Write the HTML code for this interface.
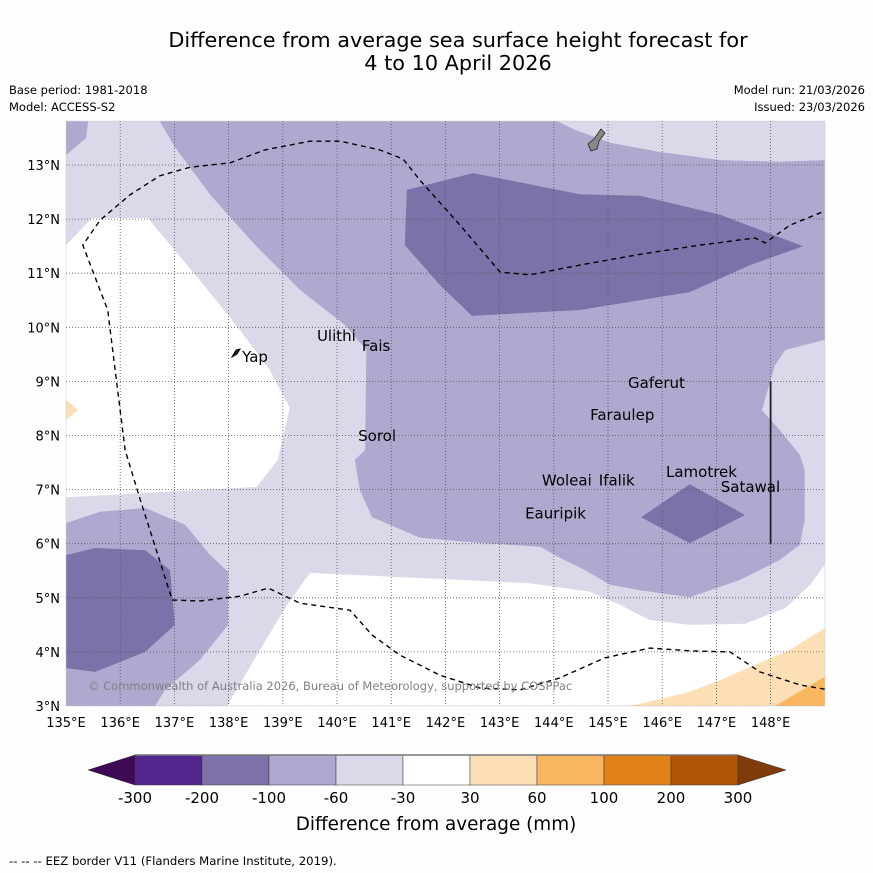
<!DOCTYPE html>
<html><head><meta charset="utf-8"><style>
html,body{margin:0;padding:0;background:#fff;}
svg{display:block;font-family:"DejaVu Sans","Liberation Sans",sans-serif;}
</style></head><body>
<svg id="chart" width="873" height="873" viewBox="0 0 873 873">
<rect width="873" height="873" fill="#fefefe"/>
<text x="458" y="47" font-size="20.8" text-anchor="middle">Difference from average sea surface height forecast for</text>
<text x="458" y="70" font-size="20.8" text-anchor="middle">4 to 10 April 2026</text>
<text x="9" y="94" font-size="11.5">Base period: 1981-2018</text>
<text x="9" y="111" font-size="11.5">Model: ACCESS-S2</text>
<text x="865" y="94" font-size="11.5" text-anchor="end">Model run: 21/03/2026</text>
<text x="865" y="111" font-size="11.5" text-anchor="end">Issued: 23/03/2026</text>
<defs><clipPath id="mc"><rect x="66" y="121" width="759" height="585"/></clipPath></defs>
<g id="map" clip-path="url(#mc)">
<rect x="66" y="121" width="759" height="585" fill="#d9d9ea"/>
</g>
<g id="overlay"></g>
<g id="cbar"></g>
<text x="436" y="830" font-size="18.4" text-anchor="middle">Difference from average (mm)</text>
<text x="9" y="865" font-size="11.7">--  --  -- EEZ border V11 (Flanders Marine Institute, 2019).</text>
</svg>
<script>
const lonMin = 135, lonMax = 149, latMin = 3, latMax = 13.81;
const regionLevels = ["-100", "-100", "-100", "white", "-200", "-200", "-200", "30", "60", "30"];
const regionPolys = [
 [[136.73,13.81],[144.06,13.81],[144.39,13.65],[145.04,13.41],[145.96,13.24],[147.07,13.09],[148.17,13.06],[149,13.09],[149,9.77],[148.27,9.58],[148.08,9.30],[147.84,8.47],[148.17,8.10],[148.54,7.64],[148.63,7.36],[148.63,6.44],[148.54,5.98],[148.17,5.70],[147.44,5.33],[146.51,5.01],[145.59,5.14],[145.04,5.24],[144.58,5.51],[144.11,5.74],[143.75,5.94],[142.45,6.03],[141.53,6.11],[140.65,6.49],[140.42,6.99],[140.33,7.55],[140.52,7.73],[140.54,9.58],[140.15,10.04],[139.32,10.69],[138.49,11.52],[137.66,12.45],[137.01,13.33]],
 [[135,13.81],[135.41,13.81],[135.37,13.5],[135,13.18]],
 [[135,6.38],[135.63,6.59],[136.46,6.66],[137.2,6.35],[137.66,5.79],[137.99,5.48],[137.99,4.5],[137.47,3.85],[136.83,3.30],[136.64,3.0],[135,3]],
 [[139.5,5.46],[142.27,5.33],[143.56,5.27],[144.67,5.11],[145.22,4.87],[145.77,4.59],[146.51,4.5],[147.53,4.52],[148.27,4.81],[148.73,5.24],[149,5.61],[149,3],[137.97,3],[138.58,4.04],[139.04,4.81]],
 [[135,5.79],[135.54,5.92],[136.46,5.88],[136.92,5.51],[137.01,4.5],[136.46,4.0],[135.54,3.63],[135,3.70]],
 [[141.29,12.54],[142.51,12.85],[144.48,12.46],[145.59,12.43],[147.07,12.08],[148.6,11.5],[147.62,11.15],[146.51,10.65],[144.48,10.32],[142.49,10.21],[141.9,10.78],[141.25,11.52]],
 [[145.61,6.49],[146.51,7.10],[147.53,6.53],[146.51,6.01]],
 [[145.41,3],[146.51,3.26],[147.07,3.48],[148.36,4.04],[149,4.44],[149,3]],
 [[148.08,3],[149,3.54],[149,3]],
 [[135,8.66],[135.22,8.47],[135,8.29]]
];
const whiteLeft = [[135,11.52],[135.48,12.02],[136.51,12.02],[137.47,10.87],[138.21,9.95],[138.76,9.21],[139.13,8.51],[138.91,7.55],[138.52,7.05],[135,6.86]];
const eezLower = [[149,3.31],[148.54,3.39],[147.8,3.63],[147.25,4.0],[146.51,4.02],[145.77,4.07],[144.94,3.89],[144.11,3.52],[143.38,3.30],[142.64,3.33],[141.9,3.57],[141.16,3.94],[140.65,4.31],[140.24,4.77],[139.32,4.9],[138.73,5.18],[138.21,5.03],[137.47,4.94],[136.96,4.96],[136.37,6.81],[136.09,7.73],[135.77,10.32],[135.31,11.52]];
const eezUpper = [[135.31,11.52],[135.63,11.98],[136.18,12.45],[136.73,12.8],[137.29,12.96],[138.03,13.04],[138.67,13.28],[139.5,13.44],[140.06,13.44],[140.79,13.28],[141.22,13.11],[141.53,12.72],[142.27,11.89],[143.01,11.02],[143.56,10.97],[144.48,11.15],[145.59,11.35],[146.7,11.52],[147.71,11.65],[147.9,11.56],[148.36,11.89],[149,12.15]];
const placeNames = ["Yap","Ulithi","Fais","Gaferut","Faraulep","Sorol","Woleai","Ifalik","Lamotrek","Satawal","Eauripik"];
const placeLon = [138.25,139.63,140.46,145.37,144.67,140.39,143.78,144.83,146.07,147.08,143.47];
const placeLat = [9.36,9.75,9.56,8.88,8.29,7.90,7.08,7.08,7.23,6.96,6.47];
const lonTicks = [135,136,137,138,139,140,141,142,143,144,145,146,147,148];
const latTicks = [3,4,5,6,7,8,9,10,11,12,13];
const cbarLabels = ["-300","-200","-100","-60","-30","30","60","100","200","300"];
const cbarColors = ["#54278f","#7f72aa","#aea9cf","#d9d9ea","#ffffff","#fddfb5","#fbb660","#e2831a","#b25507"];
const levelColors = {"-200":"#7d71a9","-100":"#aea9cf","white":"#ffffff","30":"#fddfb5","60":"#fbb660"};

const X = lon => 66 + (lon - lonMin) * 54.2;
const Y = lat => 165 - (lat - 13) * 54.1;
const NS = "http://www.w3.org/2000/svg";
const mk = (t, a, parent) => { const e = document.createElementNS(NS, t); for (const k in a) e.setAttribute(k, a[k]); parent.appendChild(e); return e; };
const map = document.getElementById('map');
const ov = document.getElementById('overlay');
const pts = p => p.map(q => X(q[0]).toFixed(1) + "," + Y(q[1]).toFixed(1)).join(" ");

function drawRegion(poly, color, name) {
  const e = mk('polygon', {points: pts(poly), fill: color}, map);
  
  
}
drawRegion(regionPolys[0], levelColors["-100"], 'contour-region');
drawRegion(whiteLeft, levelColors["white"], 'contour-region');
for (let i = 1; i < regionPolys.length; i++) drawRegion(regionPolys[i], levelColors[regionLevels[i]], 'contour-region');

lonTicks.forEach(l => { if (l > lonMin) { const g = mk('line', {x1: X(l), x2: X(l), y1: 121, y2: 706, stroke: '#555', 'stroke-width': 0.8, 'stroke-dasharray': '1,2'}, map);
  
   } });
latTicks.forEach(l => { const g = mk('line', {x1: 66, x2: 825, y1: Y(l), y2: Y(l), stroke: '#555', 'stroke-width': 0.8, 'stroke-dasharray': '1,2'}, map);
  
   });

const eez = mk('polyline', {points: pts(eezLower.concat(eezUpper)), fill: 'none', stroke: '#000', 'stroke-width': 1.4, 'stroke-dasharray': '5,4'}, map);


const seg = mk('line', {x1: X(148), x2: X(148), y1: Y(9), y2: Y(6), stroke: '#222', 'stroke-width': 1.8}, map);



const guam = mk('path', {d: 'M601,129 L605,133 L599,141 L597,149 L591,151 L588,144 L594,139 Z', fill: '#888', stroke: '#222', 'stroke-width': 0.8}, map);


const yap = mk('path', {d: 'M232,357 L236,350 L240,349 L237,354 Z', fill: '#222', stroke: '#000', 'stroke-width': 1}, map);



const cr = mk('text', {x: 88, y: 690, 'font-size': 11.5, fill: '#808080'}, map);
cr.textContent = '© Commonwealth of Australia 2026, Bureau of Meteorology, supported by COSPPac';



placeNames.forEach((n, i) => {
  const t = mk('text', {x: X(placeLon[i]), y: Y(placeLat[i]), 'font-size': 15, fill: '#000'}, map);
  t.textContent = n;
  
  
});

const frame = mk('rect', {x: 66, y: 121, width: 759, height: 585, fill: 'none', stroke: '#ccc', 'stroke-width': 0.5}, ov);


lonTicks.forEach(l => { const t = mk('text', {x: X(l), y: 727, 'font-size': 13, 'text-anchor': 'middle'}, ov);
  t.textContent = l + '°E';
  
   });
latTicks.forEach(l => { const t = mk('text', {x: 60, y: Y(l) + 5, 'font-size': 13, 'text-anchor': 'end'}, ov);
  t.textContent = l + '°N';
  
   });

const cb = document.getElementById('cbar');
const cx0 = 135, cw = 67.0, cy = 755, ch = 30;
const lt = mk('polygon', {points: `${cx0},${cy} 88,${cy + ch / 2} ${cx0},${cy + ch}`, fill: '#3f0a55', stroke: '#333', 'stroke-width': 0.5}, cb);


cbarColors.forEach((c, i) => { const r = mk('rect', {x: cx0 + i * cw, y: cy, width: cw, height: ch, fill: c, stroke: '#333', 'stroke-width': 0.5}, cb);
  
   });
const xe = cx0 + cbarColors.length * cw;
const rt = mk('polygon', {points: `${xe},${cy} 786,${cy + ch / 2} ${xe},${cy + ch}`, fill: '#7f3b0a', stroke: '#333', 'stroke-width': 0.5}, cb);


mk('line', {x1: cx0, x2: xe, y1: cy, y2: cy, stroke: '#777', 'stroke-width': 1.5}, cb);
cbarLabels.forEach((l, i) => { const t = mk('text', {x: cx0 + i * cw, y: 803, 'font-size': 15, 'text-anchor': 'middle'}, cb);
  t.textContent = l;
  
   });
</script>
</body></html>
